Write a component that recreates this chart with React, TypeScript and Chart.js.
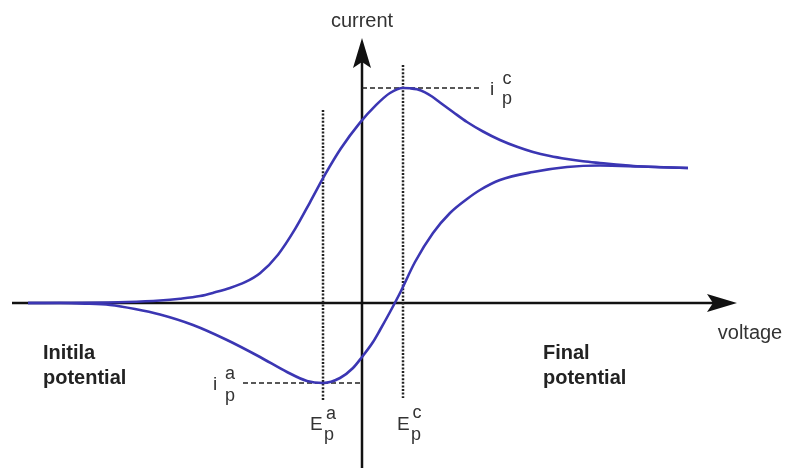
import React, { useEffect, useRef } from "react";
import { Chart, registerables } from "chart.js";

Chart.register(...registerables);

// Forward sweep (upper branch), voltage increasing
const voltageForward = [-3.34, -2.82, -2.35, -2.02, -1.82, -1.62, -1.47, -1.32, -1.17, -1.02, -0.84, -0.67, -0.52, -0.37, -0.21, -0.02, 0.13, 0.28, 0.41, 0.48, 0.55, 0.63, 0.7, 0.78, 0.91, 1.05, 1.21, 1.38, 1.55, 1.71, 1.88, 2.05, 2.21, 2.38, 2.71, 2.98, 3.26];
const currentForward = [0, 0.002, 0.01, 0.025, 0.043, 0.07, 0.107, 0.15, 0.208, 0.298, 0.483, 0.738, 1.007, 1.283, 1.547, 1.804, 1.969, 2.1, 2.15, 2.147, 2.137, 2.107, 2.065, 2.005, 1.91, 1.81, 1.715, 1.63, 1.562, 1.51, 1.47, 1.44, 1.417, 1.4, 1.37, 1.358, 1.35];

// Reverse sweep (lower branch), listed by increasing voltage
const voltageReverse = [-3.34, -3.02, -2.77, -2.52, -2.27, -2.02, -1.69, -1.35, -1.02, -0.75, -0.55, -0.39, -0.22, -0.09, 0, 0.11, 0.18, 0.28, 0.38, 0.53, 0.71, 0.88, 1.05, 1.18, 1.38, 1.71, 2.05, 2.38, 2.78, 3.26];
const currentReverse = [0, 0, -0.006, -0.02, -0.06, -0.115, -0.22, -0.37, -0.54, -0.69, -0.78, -0.8, -0.75, -0.65, -0.54, -0.39, -0.27, -0.09, 0.1, 0.41, 0.7, 0.9, 1.04, 1.13, 1.23, 1.31, 1.36, 1.375, 1.365, 1.35];

const axisLabels = ["current", "voltage"];
const startLabel = ["Initila", "potential"];
const endLabel = ["Final", "potential"];

const X_MIN = -3.62;
const X_MAX = 4.23;
const Y_MIN = -1.65;
const Y_MAX = 3.03;

const FONT = "'Liberation Sans', Arial, Helvetica, sans-serif";

export default function App() {
  const canvasRef = useRef<HTMLCanvasElement | null>(null);

  useEffect(() => {
    if (!canvasRef.current) return;

    const fwd = voltageForward.map((v, i) => ({ x: v, y: currentForward[i] }));
    const rev = voltageReverse.map((v, i) => ({ x: v, y: currentReverse[i] }));

    // peaks derived from data
    let ipcIdx = 0;
    currentForward.forEach((c, i) => {
      if (c > currentForward[ipcIdx]) ipcIdx = i;
    });
    let ipaIdx = 0;
    currentReverse.forEach((c, i) => {
      if (c < currentReverse[ipaIdx]) ipaIdx = i;
    });
    const Epc = voltageForward[ipcIdx];
    const ipc = currentForward[ipcIdx];
    const Epa = voltageReverse[ipaIdx];
    const ipa = currentReverse[ipaIdx];

    const arrowHead = (ctx: CanvasRenderingContext2D, tx: number, ty: number, dx: number, dy: number) => {
      const len = 30;
      const half = 9;
      const notch = 6;
      const nx = -dy;
      const ny = dx;
      const bx = tx - dx * len;
      const by = ty - dy * len;
      ctx.beginPath();
      ctx.moveTo(tx, ty);
      ctx.lineTo(bx + nx * half, by + ny * half);
      ctx.lineTo(tx - dx * (len - notch), ty - dy * (len - notch));
      ctx.lineTo(bx - nx * half, by - ny * half);
      ctx.closePath();
      ctx.fill();
    };

    const decor = {
      id: "decor",
      beforeDatasetsDraw(chart: any) {
        const ctx: CanvasRenderingContext2D = chart.ctx;
        const xs = chart.scales.x;
        const ys = chart.scales.y;
        const px = (v: number) => xs.getPixelForValue(v);
        const py = (v: number) => ys.getPixelForValue(v);
        ctx.save();
        // axes
        ctx.strokeStyle = "#111";
        ctx.fillStyle = "#111";
        ctx.lineWidth = 2.5;
        ctx.setLineDash([]);
        const x0 = px(0);
        const y0 = py(0);
        const xTip = px(3.75);
        const yTip = py(2.65);
        ctx.beginPath();
        ctx.moveTo(px(-3.5), y0);
        ctx.lineTo(xTip - 20, y0);
        ctx.stroke();
        ctx.beginPath();
        ctx.moveTo(x0, py(Y_MIN));
        ctx.lineTo(x0, yTip + 20);
        ctx.stroke();
        arrowHead(ctx, xTip, y0, 1, 0);
        arrowHead(ctx, x0, yTip, 0, -1);

        // dotted verticals
        ctx.strokeStyle = "#222";
        ctx.lineWidth = 2.5;
        ctx.setLineDash([2, 1.6]);
        ctx.beginPath();
        ctx.moveTo(px(Epc), py(2.38));
        ctx.lineTo(px(Epc), py(-0.95));
        ctx.stroke();
        ctx.beginPath();
        ctx.moveTo(px(Epa), py(1.93));
        ctx.lineTo(px(Epa), py(-0.98));
        ctx.stroke();

        // dashed horizontals
        ctx.lineWidth = 1.6;
        ctx.setLineDash([5, 3]);
        ctx.beginPath();
        ctx.moveTo(x0, py(ipc));
        ctx.lineTo(px(1.18), py(ipc));
        ctx.stroke();
        ctx.beginPath();
        ctx.moveTo(px(-1.19), py(ipa));
        ctx.lineTo(x0, py(ipa));
        ctx.stroke();
        ctx.restore();
      },
      afterDatasetsDraw(chart: any) {
        const ctx: CanvasRenderingContext2D = chart.ctx;
        const xs = chart.scales.x;
        const ys = chart.scales.y;
        const px = (v: number) => xs.getPixelForValue(v);
        const py = (v: number) => ys.getPixelForValue(v);
        ctx.save();
        ctx.fillStyle = "#333";
        ctx.textBaseline = "alphabetic";

        // axis titles
        ctx.font = `20px ${FONT}`;
        ctx.textAlign = "center";
        ctx.fillText(axisLabels[0], px(0), 27);
        ctx.fillText(axisLabels[1], 750, 339);

        // potentials
        ctx.fillStyle = "#222";
        ctx.font = `bold 20px ${FONT}`;
        ctx.textAlign = "left";
        ctx.fillText(startLabel[0], 43, 359);
        ctx.fillText(startLabel[1], 43, 384);
        ctx.fillText(endLabel[0], 543, 359);
        ctx.fillText(endLabel[1], 543, 384);

        ctx.fillStyle = "#333";
        // i_p^c
        const ipcY = py(ipc);
        ctx.font = `19px ${FONT}`;
        ctx.textAlign = "left";
        ctx.fillText("i", 490, ipcY + 7);
        ctx.font = `18px ${FONT}`;
        ctx.textAlign = "center";
        ctx.fillText("c", 507, ipcY - 4);
        ctx.fillText("p", 507, ipcY + 16);

        // i_p^a
        const ipaY = py(ipa);
        ctx.font = `19px ${FONT}`;
        ctx.textAlign = "left";
        ctx.fillText("i", 213, ipaY + 7);
        ctx.font = `18px ${FONT}`;
        ctx.textAlign = "center";
        ctx.fillText("a", 230, ipaY - 4);
        ctx.fillText("p", 230, ipaY + 18);

        // E_p^a
        const exa = px(Epa);
        ctx.font = `19px ${FONT}`;
        ctx.textAlign = "left";
        ctx.fillText("E", exa - 13, 430);
        ctx.font = `18px ${FONT}`;
        ctx.textAlign = "center";
        ctx.fillText("a", exa + 8, 419);
        ctx.fillText("p", exa + 6, 440);

        // E_p^c
        const exc = px(Epc);
        ctx.font = `19px ${FONT}`;
        ctx.textAlign = "left";
        ctx.fillText("E", exc - 6, 430);
        ctx.font = `18px ${FONT}`;
        ctx.textAlign = "center";
        ctx.fillText("c", exc + 14, 418);
        ctx.fillText("p", exc + 13, 440);
        ctx.restore();
      },
    };

    const curveColor = "#3b36b3";

    const chart = new Chart(canvasRef.current, {
      type: "scatter",
      data: {
        datasets: [
          {
            label: "forward",
            data: fwd,
            showLine: true,
            borderColor: curveColor,
            backgroundColor: curveColor,
            borderWidth: 2.6,
            pointRadius: 0,
            cubicInterpolationMode: "monotone",
          } as any,
          {
            label: "reverse",
            data: rev,
            showLine: true,
            borderColor: curveColor,
            backgroundColor: curveColor,
            borderWidth: 2.6,
            pointRadius: 0,
            cubicInterpolationMode: "monotone",
          } as any,
        ],
      },
      options: {
        responsive: true,
        maintainAspectRatio: false,
        animation: false,
        layout: { padding: 0 },
        plugins: {
          legend: { display: false },
          tooltip: { enabled: false },
        },
        scales: {
          x: { type: "linear", min: X_MIN, max: X_MAX, display: false },
          y: { type: "linear", min: Y_MIN, max: Y_MAX, display: false },
        },
      },
      plugins: [decor],
    });

    return () => chart.destroy();
  }, []);

  return (
    <div
      style={{
        position: "fixed",
        left: 0,
        top: 0,
        width: 785,
        height: 468,
        background: "#fff",
      }}
    >
      <canvas ref={canvasRef} style={{ display: "block" }} />
    </div>
  );
}
